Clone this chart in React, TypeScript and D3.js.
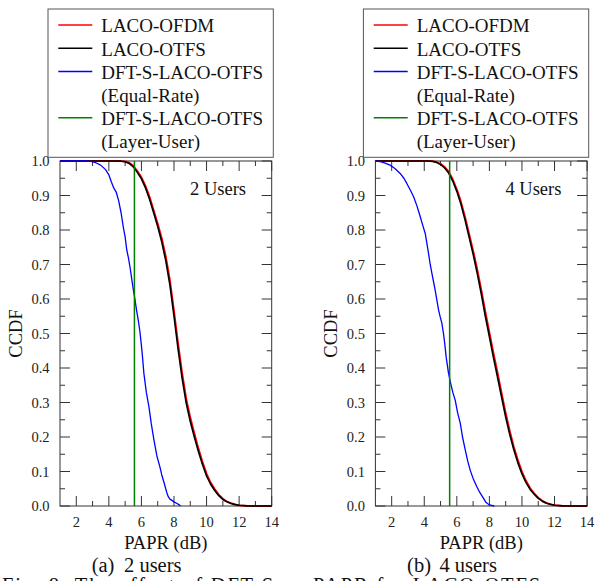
import React from "react";
import * as d3 from "d3";

// ---------- data ----------
const PAPR_GRID = [1, 4.25, 4.5, 4.75, 5, 5.25, 5.5, 5.75, 6, 6.25, 6.5, 6.75, 7, 7.25, 7.5, 7.75, 8, 8.25, 8.5, 8.75, 9, 9.25, 9.5, 9.75, 10, 10.25, 10.5, 10.75, 11, 11.25, 11.5, 11.75, 12, 12.5, 13, 14];

const ofdm2 = [1, 1, 1, 0.9998, 0.999, 0.995, 0.986, 0.971, 0.953, 0.928, 0.896, 0.858, 0.819, 0.776, 0.723, 0.655, 0.566, 0.472, 0.386, 0.312, 0.257, 0.211, 0.167, 0.128, 0.094, 0.068, 0.049, 0.033, 0.021, 0.013, 0.008, 0.005, 0.002, 0.0006, 0.0001, 0];
const otfs2 = [1, 1, 1, 0.9995, 0.998, 0.993, 0.983, 0.967, 0.948, 0.922, 0.889, 0.85, 0.81, 0.765, 0.71, 0.64, 0.55, 0.455, 0.37, 0.298, 0.245, 0.2, 0.158, 0.12, 0.087, 0.063, 0.045, 0.03, 0.019, 0.012, 0.007, 0.004, 0.002, 0.0005, 0, 0];
const ofdm4 = [1, 1, 0.9995, 0.997, 0.992, 0.983, 0.969, 0.947, 0.918, 0.883, 0.839, 0.79, 0.741, 0.687, 0.628, 0.564, 0.504, 0.444, 0.387, 0.328, 0.27, 0.218, 0.172, 0.133, 0.1, 0.073, 0.052, 0.037, 0.024, 0.015, 0.009, 0.005, 0.0025, 0.0006, 0.0001, 0];
const otfs4 = [1, 1, 0.999, 0.996, 0.99, 0.98, 0.965, 0.942, 0.912, 0.875, 0.83, 0.78, 0.73, 0.675, 0.615, 0.55, 0.49, 0.43, 0.373, 0.315, 0.258, 0.207, 0.163, 0.125, 0.093, 0.068, 0.048, 0.034, 0.022, 0.014, 0.008, 0.005, 0.002, 0.0005, 0, 0];

const eqRateX2 = [1, 2.5, 2.9, 3.2, 3.5, 3.8, 4.0, 4.15, 4.3, 4.45, 4.6, 4.75, 4.9, 5.0, 5.1, 5.2, 5.3, 5.4, 5.5, 5.6, 5.7, 5.8, 5.9, 6.0, 6.07, 6.15, 6.3, 6.46, 6.6, 6.77, 6.95, 7.13, 7.25, 7.4, 7.55, 7.65, 7.75, 7.85, 8.0, 8.16, 8.3, 8.4];
const eqRateY2 = [1, 1, 0.999, 0.995, 0.988, 0.975, 0.96, 0.94, 0.922, 0.91, 0.885, 0.85, 0.805, 0.78, 0.742, 0.72, 0.692, 0.66, 0.628, 0.6, 0.568, 0.54, 0.508, 0.465, 0.43, 0.385, 0.33, 0.288, 0.24, 0.191, 0.145, 0.114, 0.09, 0.066, 0.04, 0.027, 0.02, 0.017, 0.012, 0.008, 0.004, 0];
const eqRateX4 = [1, 1.3, 1.6, 1.9, 2.2, 2.52, 2.75, 2.93, 3.15, 3.34, 3.55, 3.75, 3.9, 4.06, 4.15, 4.26, 4.35, 4.47, 4.57, 4.67, 4.78, 4.88, 4.98, 5.08, 5.18, 5.26, 5.35, 5.49, 5.6, 5.75, 5.9, 6.05, 6.21, 6.35, 6.52, 6.67, 6.82, 7.0, 7.23, 7.4, 7.64, 7.8, 8.0, 8.3];
const eqRateY4 = [1, 0.998, 0.994, 0.988, 0.978, 0.964, 0.95, 0.935, 0.915, 0.897, 0.87, 0.839, 0.815, 0.79, 0.765, 0.733, 0.705, 0.674, 0.65, 0.626, 0.595, 0.568, 0.548, 0.53, 0.5, 0.47, 0.43, 0.385, 0.36, 0.33, 0.307, 0.27, 0.24, 0.2, 0.162, 0.13, 0.104, 0.08, 0.056, 0.04, 0.022, 0.01, 0.003, 0];

const layerUserX2 = [5.57, 5.57];
const layerUserX4 = [5.56, 5.56];
const layerUserY = [1, 0];

const X_TICKS = [2, 4, 6, 8, 10, 12, 14];
const X_MINOR = [3, 5, 7, 9, 11, 13];
const Y_TICKS = [0, 0.1, 0.2, 0.3, 0.4, 0.5, 0.6, 0.7, 0.8, 0.9, 1.0];
const Y_MINOR = [0.05, 0.15, 0.25, 0.35, 0.45, 0.55, 0.65, 0.75, 0.85, 0.95];

const LEGEND_LABELS = [["LACO-OFDM"], ["LACO-OTFS"], ["DFT-S-LACO-OTFS", "(Equal-Rate)"], ["DFT-S-LACO-OTFS", "(Layer-User)"]];
const SERIES_COLORS = ["#ff0000", "#000000", "#0000ff", "#008000"];

const FONT = "Liberation Serif, Tinos, Times New Roman, Times, DejaVu Serif, serif";

type Pt = [number, number];
const zip = (xs: number[], ys: number[]): Pt[] => xs.map((x, i) => [x, ys[i]]);

const PANELS = [
  {
    off: 0,
    annotation: "2 Users",
    tag: "(a)",
    caption: "2 users",
    series: [zip(PAPR_GRID, ofdm2), zip(PAPR_GRID, otfs2), zip(eqRateX2, eqRateY2), zip(layerUserX2, layerUserY)],
  },
  {
    off: 315.4,
    annotation: "4 Users",
    tag: "(b)",
    caption: "4 users",
    series: [zip(PAPR_GRID, ofdm4), zip(PAPR_GRID, otfs4), zip(eqRateX4, eqRateY4), zip(layerUserX4, layerUserY)],
  },
];

const SERIES_WIDTH = [1.8, 1.6, 1.3, 1.5];

function Panel({ p }: { p: (typeof PANELS)[number] }) {
  const x0 = 60 + p.off;
  const x1 = x0 + 211.7;
  const yTop = 161;
  const yBot = 506;
  const x = d3.scaleLinear().domain([1, 14]).range([x0, x1]);
  const y = d3.scaleLinear().domain([0, 1]).range([yBot, yTop]);
  const line = d3
    .line<Pt>()
    .x((d) => x(d[0]))
    .y((d) => y(d[1]));
  const fmt = d3.format(".1f");
  const frame = "#333";
  const major = 10;
  const minor = 5;
  const lx = 48 + p.off;
  const rowBase = (i: number) => 32.3 + i * 23.2;
  let row = 0;
  return (
    <g>
      {/* ticks */}
      {X_TICKS.map((t) => (
        <g key={"xt" + t}>
          <line x1={x(t)} x2={x(t)} y1={yBot} y2={yBot - major} stroke={frame} strokeWidth={1} />
          <line x1={x(t)} x2={x(t)} y1={yTop} y2={yTop + major} stroke={frame} strokeWidth={1} />
          <text x={x(t)} y={yBot + 21} textAnchor="middle" fontSize={14.5} fontFamily={FONT} fill="#222">
            {t}
          </text>
        </g>
      ))}
      {X_MINOR.map((t) => (
        <g key={"xm" + t}>
          <line x1={x(t)} x2={x(t)} y1={yBot} y2={yBot - minor} stroke={frame} strokeWidth={1} />
          <line x1={x(t)} x2={x(t)} y1={yTop} y2={yTop + minor} stroke={frame} strokeWidth={1} />
        </g>
      ))}
      {Y_TICKS.map((t) => (
        <g key={"yt" + t}>
          <line x1={x0} x2={x0 + major} y1={y(t)} y2={y(t)} stroke={frame} strokeWidth={1} />
          <line x1={x1} x2={x1 - major} y1={y(t)} y2={y(t)} stroke={frame} strokeWidth={1} />
          <text x={x0 - 10.5} y={y(t)} dy="0.35em" textAnchor="end" fontSize={14.5} fontFamily={FONT} fill="#222">
            {fmt(t)}
          </text>
        </g>
      ))}
      {Y_MINOR.map((t) => (
        <g key={"ym" + t}>
          <line x1={x0} x2={x0 + minor} y1={y(t)} y2={y(t)} stroke={frame} strokeWidth={1} />
          <line x1={x1} x2={x1 - minor} y1={y(t)} y2={y(t)} stroke={frame} strokeWidth={1} />
        </g>
      ))}
      <rect x={x0} y={yTop} width={x1 - x0} height={yBot - yTop} fill="none" stroke={frame} strokeWidth={1} />
      {/* curves */}
      {p.series.map((s, i) => (
        <path key={"s" + i} d={line(s) || ""} fill="none" stroke={SERIES_COLORS[i]} strokeWidth={SERIES_WIDTH[i]} strokeLinejoin="round" />
      ))}
      <text x={x0 + 130} y={195} fontSize={18.5} fontFamily={FONT} fill="#111">
        {p.annotation}
      </text>
      {/* axis titles */}
      <text x={(x0 + x1) / 2} y={549} textAnchor="middle" fontSize={18.5} fontFamily={FONT} fill="#111">
        PAPR (dB)
      </text>
      <text
        transform={`translate(${21.7 + p.off},${333.5}) rotate(-90)`}
        textAnchor="middle"
        fontSize={18.5}
        fontFamily={FONT}
        fill="#111"
      >
        CCDF
      </text>
      {/* caption */}
      <text x={91.7 + p.off} y={572} fontSize={20.5} fontFamily={FONT} fill="#111">
        {p.tag}
      </text>
      <text x={124 + p.off} y={572} fontSize={20.5} fontFamily={FONT} fill="#111">
        {p.caption}
      </text>
      {/* legend */}
      <rect x={lx} y={9} width={225.3} height={148.3} fill="#fff" stroke="#555" strokeWidth={1} />
      {LEGEND_LABELS.map((labels, i) => {
        const start = row;
        row += labels.length;
        return (
          <g key={"lg" + i}>
            <line
              x1={lx + 10.3}
              x2={lx + 44.3}
              y1={rowBase(start) - 7.3}
              y2={rowBase(start) - 7.3}
              stroke={SERIES_COLORS[i]}
              strokeWidth={1.5}
            />
            {labels.map((lab, j) => (
              <text key={j} x={lx + 53.3} y={rowBase(start + j)} fontSize={19} fontFamily={FONT} fill="#111">
                {lab}
              </text>
            ))}
          </g>
        );
      })}
    </g>
  );
}

export default function App() {
  return (
    <svg
      width={596}
      height={581}
      viewBox="0 0 596 581"
      style={{ position: "absolute", left: 0, top: 0, display: "block", background: "#fff" }}
    >
      <rect x={0} y={0} width={596} height={581} fill="#fff" />
      {PANELS.map((p, i) => (
        <Panel key={i} p={p} />
      ))}
      <text x={2} y={592} fontSize={20.5} fontFamily={FONT} fill="#111" textLength={545} lengthAdjust="spacing">
        Fig. 8: The effect of DFT-S on PAPR for LACO-OTFS.
      </text>
    </svg>
  );
}
